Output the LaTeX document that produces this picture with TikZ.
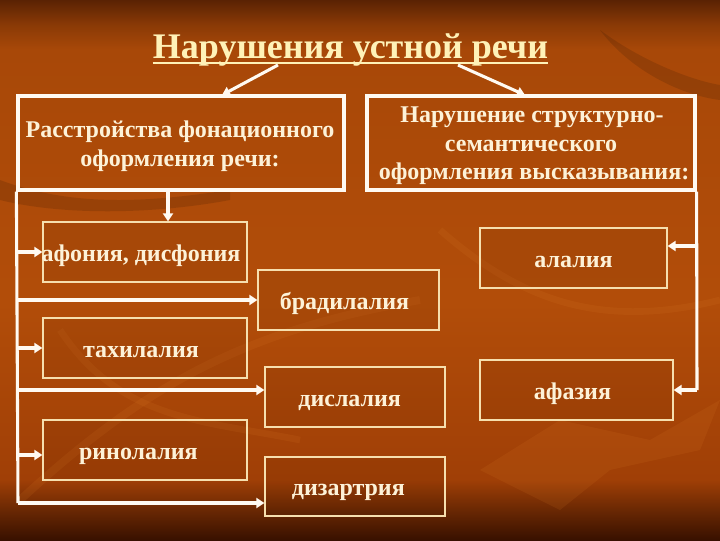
\documentclass[tikz,border=0pt]{standalone}
\usepackage{fontspec}
\setmainfont{Liberation Serif}
\usetikzlibrary{arrows.meta,fit}
\definecolor{bgtop}{HTML}{5A2203}
\definecolor{bgA}{HTML}{8A3A06}
\definecolor{bgB}{HTML}{A84808}
\definecolor{bgC}{HTML}{B24D09}
\definecolor{bgD}{HTML}{A03F06}
\definecolor{bgE}{HTML}{6A2803}
\definecolor{bgbot}{HTML}{381000}
\definecolor{titlec}{HTML}{FFF2B8}
\definecolor{textc}{HTML}{FDF2D8}
\definecolor{linec}{HTML}{FFFAF2}
\definecolor{thinc}{HTML}{F6DFAE}
\definecolor{leaf}{HTML}{E0822A}
\pgfdeclareverticalshading{bgsh}{100bp}{color(0bp)=(bgbot); color(25bp)=(bgbot); color(27.8bp)=(bgE); color(30.6bp)=(bgD); color(47bp)=(bgC); color(70.4bp)=(bgB); color(72.7bp)=(bgA); color(75bp)=(bgtop); color(100bp)=(bgtop)}
\begin{document}
\begin{tikzpicture}[x=0.75pt,y=-0.75pt,
  bigbox/.style={draw=linec, line width=2.4pt, inner sep=0pt},
  bigtext/.style={text=textc, inner sep=0pt, anchor=base, font=\bfseries\fontsize{18}{21}\selectfont},
  smallbox/.style={draw=thinc, line width=0.9pt, inner sep=0pt, fill=black, fill opacity=0.05},
  smalltext/.style={text=textc, inner sep=0pt, anchor=base, font=\bfseries\fontsize{18}{22}\selectfont},
  titlestyle/.style={text=titlec, inner sep=0pt, font=\bfseries\fontsize{27}{30}\selectfont},
  bus/.style={draw=linec, line width=2.3pt},
  arr/.style={bus, -{Triangle[length=6pt,width=7.5pt]}},
  tarr/.style={draw=linec, line width=2.3pt, -{Triangle[length=6pt,width=7pt]}}]
\useasboundingbox (0,0) rectangle (720,540);
\shade[shading=bgsh] (0,0) rectangle (720,540);
% faint background decoration
\begin{scope}[opacity=0.12]
  \fill[leaf] (480,470) -- (560,420) -- (650,440) -- (720,400) -- (700,450) -- (610,470) -- (560,510) -- cycle;
  \draw[leaf, line width=6pt] (20,500) .. controls (150,380) and (250,330) .. (420,300);
  \draw[leaf, line width=5pt] (60,330) .. controls (120,420) and (200,420) .. (300,440);
  \draw[leaf, line width=5pt] (440,230) .. controls (520,300) and (600,330) .. (720,300);
  \fill[black] (0,180) .. controls (80,210) and (160,200) .. (230,190) -- (230,200) .. controls (150,215) and (60,215) .. (0,200) -- cycle;
  \fill[black] (600,30) .. controls (640,60) and (690,80) .. (720,85) -- (720,100) .. controls (680,95) and (630,70) .. (600,30) -- cycle;
\end{scope}
% title
\node[titlestyle, anchor=base] (t) at (350.5,58) {Нарушения устной речи};
\draw[draw=titlec, line width=1.5pt] ([yshift=-3.5pt]t.base west) -- ([yshift=-3.5pt]t.base east);
% big boxes
\node[bigbox, fit={(18,96)(344,190)}] (b1) {};
\node[bigtext] (b1l1) at (180,137) {Расстройства фонационного};
\node[bigtext] (b1l2) at (180,166) {оформления речи:};
\node[bigbox, fit={(367,96)(695,190)}] (b2) {};
\node[bigtext] (b2l1) at (532,122) {Нарушение структурно-};
\node[bigtext] (b2l2) at (531,151) {семантического};
\node[bigtext] (b2l3) at (534,179) {оформления высказывания:};
% small boxes
\node[smallbox, fit={(43,222)(247,282)}] (afon) {};
\node[smalltext] at ([xshift=-3pt,yshift=-6.75pt]afon.center) {афония, дисфония};
\node[smallbox, fit={(258,270)(439,330)}] (brad) {};
\node[smalltext] at ([xshift=-3pt,yshift=-6.75pt]brad.center) {брадилалия};
\node[smallbox, fit={(480,228)(667,288)}] (alal) {};
\node[smalltext] at ([yshift=-6.75pt]alal.center) {алалия};
\node[smallbox, fit={(43,318)(247,378)}] (takh) {};
\node[smalltext] at ([xshift=-3pt,yshift=-6.75pt]takh.center) {тахилалия};
\node[smallbox, fit={(265,367)(445,427)}] (disl) {};
\node[smalltext] at ([xshift=-4pt,yshift=-6.75pt]disl.center) {дислалия};
\node[smallbox, fit={(480,360)(673,420)}] (afaz) {};
\node[smalltext] at ([xshift=-3pt,yshift=-6.75pt]afaz.center) {афазия};
\node[smallbox, fit={(43,420)(247,480)}] (rino) {};
\node[smalltext] at ([xshift=-5pt,yshift=-6.75pt]rino.center) {ринолалия};
\node[smallbox, fit={(265,457)(445,516)}] (diza) {};
\node[smalltext] at ([xshift=-5pt,yshift=-6.75pt]diza.center) {дизартрия};
% title arrows
\coordinate (ta1) at (278,65);
\coordinate (tb1) at (222,95);
\coordinate (ta2) at (458,65);
\coordinate (tb2) at (525,95);
\draw[tarr] (ta1) -- (tb1);
\draw[tarr] (ta2) -- (tb2);
% b1 to afon
\coordinate (d1) at (168,0);
\draw[arr] (b1.south -| d1) -- (afon.north -| d1);
% left bus
\coordinate (bl) at (18,503);
\coordinate (y4) at (0,390);
\coordinate (y5) at (0,455);
\draw[bus] (b1.south west) -- (bl);
\draw[arr] (afon.west -| bl) -- (afon.west);
\draw[arr] (brad.west -| bl) -- (brad.west);
\draw[arr] (takh.west -| bl) -- (takh.west);
\draw[arr] (bl |- y4) -- (disl.west |- y4);
\draw[arr] (bl |- y5) -- (rino.west |- y5);
\draw[arr] (bl) -- (diza.west |- bl);
% right bus
\coordinate (br) at (697,390);
\coordinate (y1) at (0,246);
\draw[bus] (b2.south east) -- (br);
\draw[arr] (br |- y1) -- (alal.east |- y1);
\draw[arr] (br) -- (afaz.east);
\end{tikzpicture}
\end{document}
